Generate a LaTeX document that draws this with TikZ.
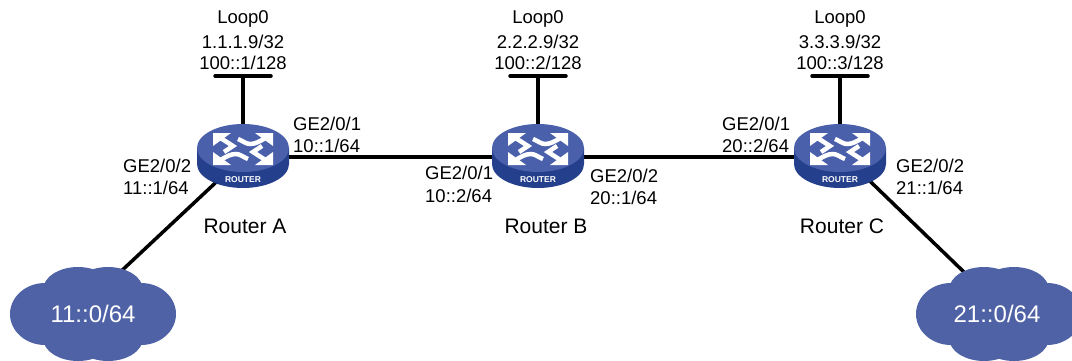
\documentclass[tikz,border=0pt]{standalone}
\usepackage{fontspec}
\setmainfont{Liberation Sans}
\usetikzlibrary{backgrounds}
\definecolor{cloudblue}{HTML}{4F62A6}
\definecolor{routertop}{HTML}{4A60AA}
\definecolor{routerside}{HTML}{243F8C}
\tikzset{
  x=1pt,y=-1pt,
  lbl/.style={font=\fontsize{18.5}{21}\selectfont,inner sep=0pt,text=black},
  lft/.style={lbl,anchor=west},
  rname/.style={font=\fontsize{21}{23}\selectfont,inner sep=0pt,text=black},
  link/.style={line width=3.5pt,draw=black},
  loopbar/.style={line width=3.5pt,draw=black,line cap=round},
  routerbox/.style={rectangle,minimum width=94pt,minimum height=68pt,inner sep=0pt},
  routerlabel/.style={text=white,font=\fontsize{8.5}{9}\selectfont\bfseries,inner sep=0pt},
  cloudbox/.style={rectangle,minimum width=168pt,minimum height=94pt,inner sep=0pt,text=white,
    font=\fontsize{24}{26}\selectfont},
  arrowstroke/.style={draw=white,line width=4.5pt}
}
\newcommand{\arrowpair}{%
  \fill[white] (-30,-16) -- (-12,-16) -- (-30,-3) -- cycle;
  \draw[arrowstroke] (-24,-12) -- (-10,-3) -- (-19,3);
  \fill[white] (30,-16) -- (12,-16) -- (30,-3) -- cycle;
  \draw[arrowstroke] (24,-12) .. controls (16,-7) and (12,-5) .. (7,-5) .. controls (3,-5) and (0,-8) .. (-5,-10);
}
\newcommand{\routerart}[2]{%
  \begin{scope}[shift={(#1,#2)}]
    \fill[routerside] (-46,-7) -- (-46,9) arc[x radius=46pt,y radius=24pt,start angle=180,end angle=360] -- (46,-7) -- cycle;
    \fill[routertop] (0,-7) ellipse[x radius=46pt,y radius=24pt];
    \begin{scope}[yshift=6pt]\arrowpair\end{scope}
    \begin{scope}[yshift=6pt,rotate=180]\arrowpair\end{scope}
  \end{scope}
}
\newcommand{\cloudart}[2]{%
  \begin{scope}[shift={(#1,#2)}]
    \fill[cloudblue] (-48,0) ellipse[x radius=35pt,y radius=31pt];
    \fill[cloudblue] (48,0) ellipse[x radius=35pt,y radius=31pt];
    \fill[cloudblue] (-15,-24) ellipse[x radius=35pt,y radius=23pt];
    \fill[cloudblue] (15,-24) ellipse[x radius=35pt,y radius=23pt];
    \fill[cloudblue] (-15,24) ellipse[x radius=35pt,y radius=23pt];
    \fill[cloudblue] (15,24) ellipse[x radius=35pt,y radius=23pt];
    \fill[cloudblue] (-48,-25) rectangle (48,25);
  \end{scope}
}
\begin{document}
\begin{tikzpicture}
\useasboundingbox (0,0) rectangle (1072,361);
\routerart{243}{155}
\routerart{538}{155}
\routerart{840}{155}
\cloudart{93}{314}
\cloudart{999}{314}
\node[routerbox] (ra) at (243,157) {};
\node[routerbox] (rb) at (538,157) {};
\node[routerbox] (rc) at (840,157) {};
\node[routerlabel] (ta) at (243,180) {ROUTER};
\node[routerlabel] (tb) at (538,180) {ROUTER};
\node[routerlabel] (tc) at (840,180) {ROUTER};
\node[cloudbox] (n1) at (93,314) {11::0/64};
\node[cloudbox] (n2) at (997,314) {21::0/64};
\coordinate (la) at (243,76);
\coordinate (lb) at (538,76);
\coordinate (lc) at (840,76);
\coordinate (c1) at (116,276);
\coordinate (c2) at (966,274);
\begin{scope}[on background layer]
\draw[link] (ra.center) -- (rb.center);
\draw[link] (rb.center) -- (rc.center);
\draw[link] (la) -- (ra.center);
\draw[link] (lb) -- (rb.center);
\draw[link] (lc) -- (rc.center);
\draw[loopbar] ([xshift=-28pt]la) -- ([xshift=28pt]la);
\draw[loopbar] ([xshift=-28pt]lb) -- ([xshift=28pt]lb);
\draw[loopbar] ([xshift=-28pt]lc) -- ([xshift=28pt]lc);
\draw[link] (ra.center) -- (c1);
\draw[link] ([xshift=5pt]rc.center) -- (c2);
\end{scope}
\node[lbl] (a1) at (243,19) {Loop0};
\node[lbl] (a2) at (243,42) {1.1.1.9/32};
\node[lbl] (a3) at (243,63) {100::1/128};
\node[lbl] (b1) at (538,19) {Loop0};
\node[lbl] (b2) at (538,42) {2.2.2.9/32};
\node[lbl] (b3) at (538,63) {100::2/128};
\node[lbl] (c1t) at (840,19) {Loop0};
\node[lbl] (c2t) at (840,42) {3.3.3.9/32};
\node[lbl] (c3t) at (840,63) {100::3/128};
\node[lft] (p1) at (293,124) {GE2/0/1};
\node[lft] (p2) at (293,146) {10::1/64};
\node[lft] (p3) at (123,166) {GE2/0/2};
\node[lft] (p4) at (123,188) {11::1/64};
\node[lft] (p5) at (425,173) {GE2/0/1};
\node[lft] (p6) at (425,196) {10::2/64};
\node[lft] (p7) at (590,176) {GE2/0/2};
\node[lft] (p8) at (590,198) {20::1/64};
\node[lft] (p9) at (722,124) {GE2/0/1};
\node[lft] (p10) at (722,146) {20::2/64};
\node[lft] (p11) at (896,166) {GE2/0/2};
\node[lft] (p12) at (896,188) {21::1/64};
\node[rname] (na) at (245,226) {Router A};
\node[rname] (nb) at (546,226) {Router B};
\node[rname] (nc) at (842,226) {Router C};
\end{tikzpicture}
\end{document}
